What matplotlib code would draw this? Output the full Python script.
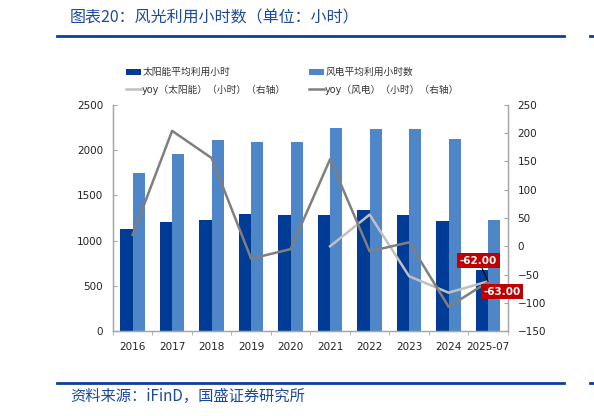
import numpy as np
import matplotlib
matplotlib.use('Agg')
import matplotlib.pyplot as plt
from matplotlib.lines import Line2D

plt.rcParams['font.family'] = ['DejaVu Sans', 'Noto Sans CJK SC']

years = ['2016', '2017', '2018', '2019', '2020', '2021', '2022', '2023', '2024', '2025-07']
solar_hours = [1133, 1205, 1230, 1291, 1281, 1281, 1337, 1286, 1215, 680]
wind_hours = [1750, 1956, 2115, 2093, 2085, 2240, 2230, 2236, 2127, 1232]
solar_yoy = [np.nan, np.nan, np.nan, np.nan, np.nan, 0, 56, -53, -82, -62]
wind_yoy = [20, 204, 156, -22, -5, 154, -9, 7, -107, -63]

c_solar = '#003C96'
c_wind = '#4F86C8'
c_solar_line = '#C0C0C0'
c_wind_line = '#7F7F7F'
c_title = '#1B4A9C'
c_rule = '#0D3F9C'

fig = plt.figure(figsize=(5.94, 4.16), dpi=100)
ax = fig.add_axes([0.190, 0.204, 0.665, 0.544])
ax2 = ax.twinx()

x = np.arange(len(years))
w = 0.31
b1 = ax.bar(x - w / 2, solar_hours, width=w, color=c_solar, label='太阳能平均利用小时')
b2 = ax.bar(x + w / 2, wind_hours, width=w, color=c_wind, label='风电平均利用小时数')
l1, = ax2.plot(x, solar_yoy, color=c_solar_line, lw=1.8, label='yoy（太阳能）（小时）（右轴）')
l2, = ax2.plot(x, wind_yoy, color=c_wind_line, lw=1.8, label='yoy（风电）（小时）（右轴）')

ax.set_xlim(-0.5, len(years) - 0.5)
ax.set_ylim(0, 2500)
ax.set_yticks(range(0, 2501, 500))
ax2.set_ylim(-150, 250)
ax2.set_yticks(range(-150, 251, 50))
ax.set_xticks(x)
ax.set_xticklabels(years)
ax.set_xticks(np.arange(-0.5, len(years), 1), minor=True)

for a in (ax, ax2):
    a.spines['top'].set_visible(False)
    for s in ('left', 'right', 'bottom'):
        a.spines[s].set_color('#A6A6A6')
        a.spines[s].set_linewidth(0.9)
    a.tick_params(axis='y', direction='in', length=3, color='#A6A6A6',
                  labelsize=7.5, labelcolor='#222222', pad=7)
ax.tick_params(axis='x', which='major', length=0, labelsize=7.5, labelcolor='#222222', pad=8)
ax.tick_params(axis='x', which='minor', direction='out', length=3, color='#A6A6A6')

box = dict(boxstyle='square,pad=0.25', fc='#C00000', ec='none')
ax2.annotate('-62.00', xy=(x[-1], solar_yoy[-1]), xytext=(-7, 15), textcoords='offset points',
             ha='center', va='center', color='white', fontsize=7.5, fontweight='bold', bbox=box,
             arrowprops=dict(arrowstyle='-', color='black', lw=0.8, shrinkA=0, shrinkB=0))
ax2.annotate('-63.00', xy=(x[-1], wind_yoy[-1]), xytext=(10, -7), textcoords='offset points',
             ha='center', va='center', color='white', fontsize=7.5, fontweight='bold', bbox=box)

leg = fig.legend([b1, l1, b2, l2], [h.get_label() for h in (b1, l1, b2, l2)],
                 ncol=2, loc='upper left', bbox_to_anchor=(0.205, 0.848), frameon=False,
                 fontsize=7, handlelength=1.6, handleheight=0.6, handletextpad=0.1,
                 columnspacing=2.3, labelspacing=0.75, borderaxespad=0)
for t in leg.get_texts():
    t.set_color('#333333')

fig.text(0.118, 0.958, '图表20：风光利用小时数（单位：小时）', fontsize=11.5, color=c_title,
         ha='left', va='center', style='italic', family=['Noto Sans CJK SC', 'DejaVu Sans'])
fig.add_artist(Line2D([0.096, 0.949], [0.913, 0.913], color=c_rule, lw=2))
fig.add_artist(Line2D([0.993, 1.0], [0.913, 0.913], color=c_rule, lw=2))
fig.add_artist(Line2D([0.096, 0.949], [0.079, 0.079], color=c_rule, lw=2))
fig.add_artist(Line2D([0.993, 1.0], [0.079, 0.079], color=c_rule, lw=2))
fig.text(0.118, 0.048, '资料来源：iFinD，国盛证券研究所', fontsize=11, color=c_title,
         ha='left', va='center', style='italic', family=['Noto Sans CJK SC', 'DejaVu Sans'])

fig.savefig('out.png', dpi=100)
